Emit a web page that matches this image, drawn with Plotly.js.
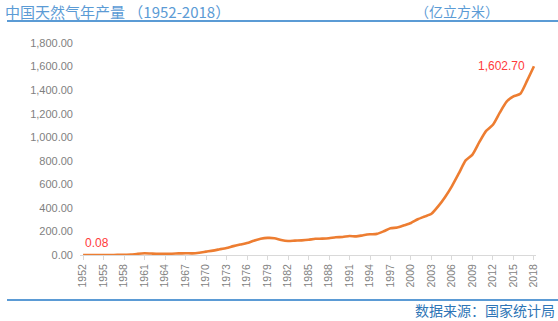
<!DOCTYPE html>
<html><head><meta charset="utf-8">
<script src="https://cdn.plot.ly/plotly-3.0.1.min.js"></script>
<style>html,body{margin:0;padding:0;background:#fff}#c{width:558px;height:321px}</style>
</head><body><div id="c"></div>
<script>
const years = [];
for (let y = 1952; y <= 2018; y++) years.push(y);
const production = [
 0.08,0.12,0.15,0.17,0.26,0.70,1.06,2.90,10.40,14.70,
 12.10,10.20,10.60,11.00,13.40,14.60,14.00,19.60,28.70,37.40,
 48.40,59.80,75.30,88.50,101.00,121.20,137.30,145.10,142.70,127.40,
 119.30,122.10,124.30,129.30,137.60,138.90,142.60,150.50,153.00,160.70,
 157.90,167.70,175.60,179.50,201.10,227.00,232.80,252.00,272.00,303.30,
 326.60,350.20,414.60,493.20,585.50,692.40,803.00,852.70,957.90,1053.40,
 1106.10,1208.60,1301.60,1346.10,1368.70,1480.40,1602.70
];
const tickYears = [];
for (let y = 1952; y <= 2018; y += 3) tickYears.push(y);
const titleText = '中国天然气年产量 （1952-2018）';
const unitText = '（亿立方米）';
const sourceText = '数据来源：国家统计局';

const L = 80, R = 536, T = 43, B = 255, W = 558, H = 321;
const px = v => (v - L) / (R - L);
const py = v => (B - v) / (B - T);
const cjk = '"Noto Sans CJK SC", "Liberation Sans", sans-serif';
const num = '"Liberation Sans", Arial, sans-serif';

const first = production[0], last = production[production.length - 1];
const fmt = v => v.toLocaleString('en-US', {minimumFractionDigits: 2, maximumFractionDigits: 2});

Plotly.newPlot('c', [{
  x: years, y: production, type: 'scatter', mode: 'lines',
  line: {color: '#ED7D31', width: 2.6, shape: 'spline', smoothing: 0.6},
  hoverinfo: 'skip'
}], {
  width: W, height: H,
  margin: {l: L, r: W - R, t: T, b: H - B},
  paper_bgcolor: '#fff', plot_bgcolor: '#fff',
  showlegend: false,
  xaxis: {
    range: [1951.55, 2018.3], tickvals: tickYears, ticktext: tickYears.map(String),
    tickangle: -90, tickfont: {family: num, size: 10.5, color: '#7f7f7f'},
    showgrid: false, zeroline: false, showline: true, linecolor: '#d9d9d9', linewidth: 1,
    ticks: 'outside', ticklen: 4, tickcolor: '#d9d9d9', fixedrange: true
  },
  yaxis: {
    range: [0, 1800], dtick: 200, tick0: 0, tickformat: ',.2f',
    tickfont: {family: num, size: 11, color: '#7f7f7f'},
    showgrid: false, zeroline: false, showline: false, ticks: '', ticklabelstandoff: 6, fixedrange: true
  },
  shapes: [
    {type: 'line', xref: 'paper', yref: 'paper', x0: px(7), x1: px(558), y0: py(21), y1: py(21),
     line: {color: '#5B9BD5', width: 2}},
    {type: 'line', xref: 'paper', yref: 'paper', x0: px(7), x1: px(558), y0: py(300), y1: py(300),
     line: {color: '#5B9BD5', width: 2}}
  ],
  annotations: [
    {xref: 'paper', yref: 'paper', x: px(3), y: py(11), xanchor: 'left', yanchor: 'middle', showarrow: false,
     text: titleText, font: {family: cjk, size: 15, color: '#5B9BD5'}},
    {xref: 'paper', yref: 'paper', x: px(413), y: py(11), xanchor: 'left', yanchor: 'middle', showarrow: false,
     text: unitText, font: {family: cjk, size: 14, color: '#5B9BD5'}},
    {xref: 'paper', yref: 'paper', x: px(557), y: py(310), xanchor: 'right', yanchor: 'middle', showarrow: false,
     text: sourceText, font: {family: cjk, size: 14, color: '#2E75B6'}},
    {x: years[0], y: first, xanchor: 'left', yanchor: 'bottom', yshift: 3, showarrow: false,
     text: String(first), font: {family: num, size: 12, color: '#FF3B3B'}},
    {x: years[years.length - 1], y: last, xanchor: 'right', yanchor: 'bottom', xshift: -7, yshift: -9, showarrow: false,
     text: fmt(last), font: {family: num, size: 12, color: '#FF3B3B'}}
  ]
}, {displayModeBar: false, staticPlot: true});
</script></body></html>
